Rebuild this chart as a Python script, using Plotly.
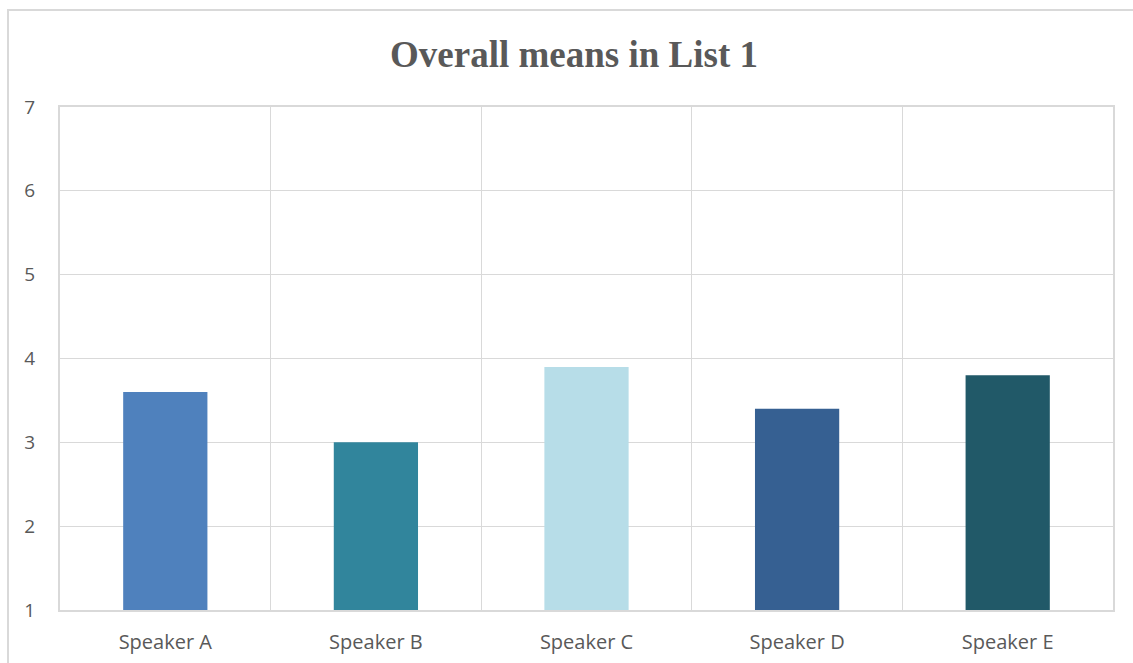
import plotly.graph_objects as go

categories = ["Speaker A", "Speaker B", "Speaker C", "Speaker D", "Speaker E"]
values = [3.6, 3.0, 3.9, 3.4, 3.8]
colors = ["#4f81bd", "#31859c", "#b7dde8", "#366092", "#215968"]
y_ticks = [1, 2, 3, 4, 5, 6, 7]

fig = go.Figure(go.Bar(x=categories, y=values, marker=dict(color=colors, line=dict(width=0))))

fig.update_layout(
    width=1133, height=663,
    margin=dict(l=60, r=20, t=107, b=53, autoexpand=False),
    paper_bgcolor="white", plot_bgcolor="white",
    bargap=0.6,
    showlegend=False,
    title=dict(text="<b>Overall means in List 1</b>", x=574 / 1133, xref="container", xanchor="center",
               y=1 - 54 / 663, yanchor="middle",
               font=dict(family="Liberation Serif", size=37, color="#595959")),
    font=dict(family="Open Sans", color="#595959"),
)
fig.update_xaxes(
    type="category", tickson="boundaries", showgrid=True, gridcolor="#d9d9d9", gridwidth=1.3,
    showline=True, linecolor="#d9d9d9", linewidth=2, mirror=True, ticks="", automargin=False,
    tickfont=dict(family="Open Sans", size=20, color="#595959"), ticklabelstandoff=13,
)
fig.update_yaxes(
    range=[1, 7], tickvals=y_ticks, showgrid=True, gridcolor="#d9d9d9", gridwidth=1.3,
    showline=True, linecolor="#d9d9d9", linewidth=2, mirror=True, ticks="", zeroline=False,
    automargin=False,
    tickfont=dict(family="Open Sans", size=19, color="#595959"), ticklabelstandoff=19,
)
fig.add_shape(type="rect", xref="paper", yref="paper", x0=-52 / 1053, x1=1.2, y0=-0.3, y1=1 + 97 / 503,
              line=dict(color="#d9d9d9", width=2), fillcolor="rgba(0,0,0,0)", layer="below")
fig.write_html("out.html")
